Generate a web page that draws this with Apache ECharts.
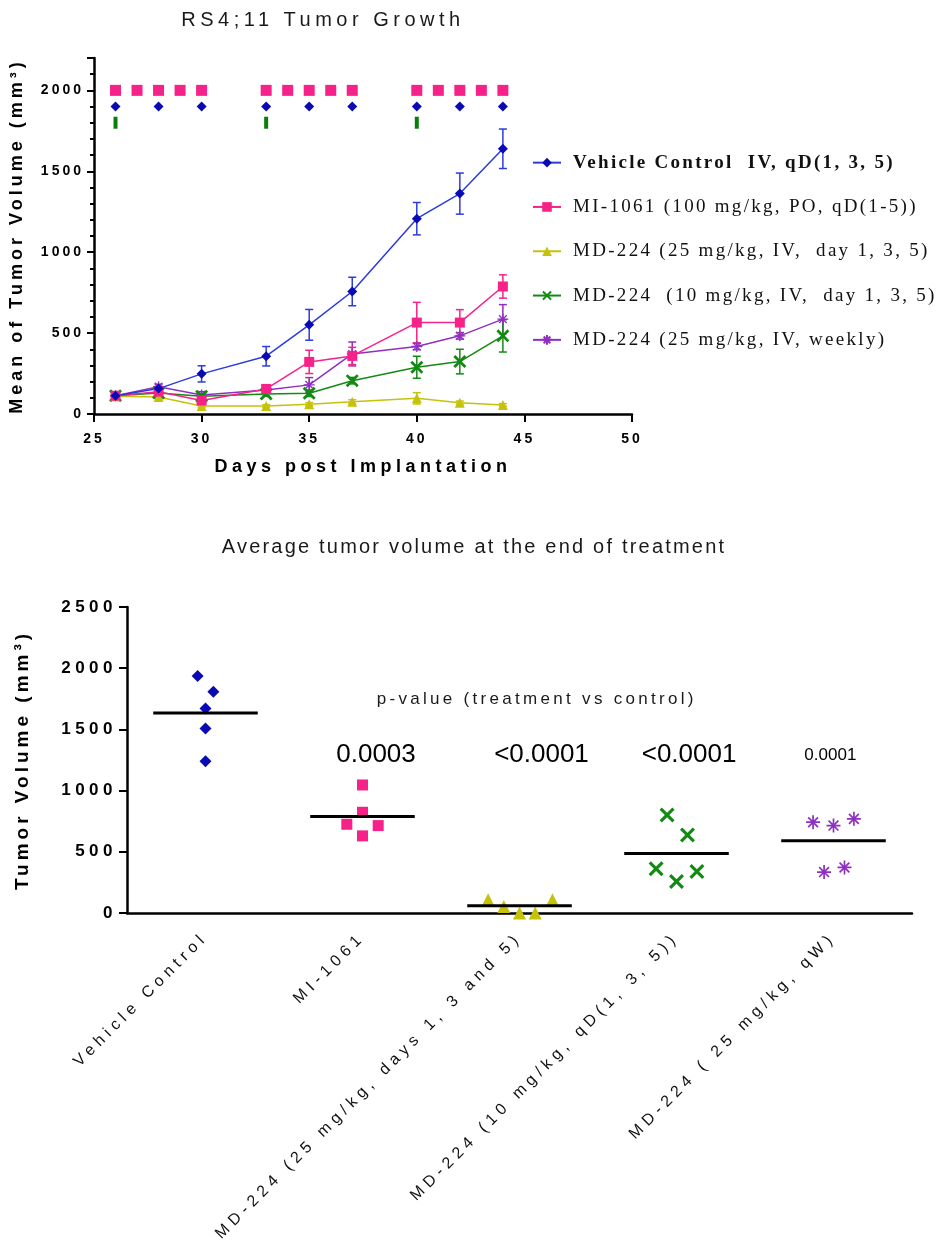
<!DOCTYPE html>
<html>
<head>
<meta charset="utf-8">
<title>RS4;11 Tumor Growth</title>
<script src="https://cdn.jsdelivr.net/npm/echarts@6/dist/echarts.min.js"></script>
<style>
  html, body { margin: 0; padding: 0; background: #fff; }
  #chart { width: 947px; height: 1245px; }
</style>
</head>
<body>
<div id="chart"></div>
<script>
// ---- top panel: growth curves ----
const days = [26, 28, 30, 33, 35, 37, 40, 42, 44];
const vehicleMean = [113, 157, 248, 357, 551, 757, 1207, 1362, 1639];
const vehicleSem = [10, 15, 50, 60, 95, 88, 100, 127, 122];
const mi1061Mean = [113, 138, 83, 155, 322, 359, 565, 565, 788];
const mi1061Sem = [10, 10, 12, 15, 72, 53, 125, 80, 72];
const md25Mean = [110, 105, 50, 50, 60, 76, 97, 70, 56];
const md25Sem = [8, 10, 8, 8, 10, 12, 35, 10, 8];
const md10Mean = [113, 130, 110, 124, 128, 206, 289, 324, 483];
const md10Sem = [10, 12, 12, 15, 20, 20, 68, 76, 100];
const weeklyMean = [113, 169, 118, 149, 180, 371, 417, 483, 586];
const weeklySem = [10, 15, 20, 15, 45, 74, 20, 20, 90];

const groupNames = [
  'Vehicle Control  IV, qD(1, 3, 5)',
  'MI-1061 (100 mg/kg, PO, qD(1-5))',
  'MD-224 (25 mg/kg, IV,  day 1, 3, 5)',
  'MD-224  (10 mg/kg, IV,  day 1, 3, 5)',
  'MD-224 (25 mg/kg, IV, weekly)'
];

// dosing schedule rows drawn above the curves
const doseSquareDays = [26, 27, 28, 29, 30, 33, 34, 35, 36, 37, 40, 41, 42, 43, 44];
const doseDiamondDays = [26, 28, 30, 33, 35, 37, 40, 42, 44];
const doseBarDays = [26, 33, 40];
const doseLevels = [2000, 1900, 1800];

// ---- bottom panel: end of treatment ----
const categories = [
  'Vehicle Control',
  'MI-1061',
  'MD-224 (25 mg/kg, days 1, 3 and 5)',
  'MD-224 (10 mg/kg, qD(1, 3, 5))',
  'MD-224 ( 25 mg/kg, qW)'
];
const vehiclePts = [1937, 1807, 1671, 1508, 1239];
const vehicleJitter = [-0.05, 0.05, 0, 0, 0];
const mi1061Pts = [1046, 823, 725, 714, 630];
const mi1061Jitter = [0, 0, -0.1, 0.1, 0];
const md25Pts = [108, 54, 0, 0, 108];
const md25Jitter = [-0.2, -0.1, 0, 0.1, 0.21];
const md10Pts = [801, 638, 361, 258, 339];
const md10Jitter = [-0.06, 0.07, -0.13, 0, 0.13];
const weeklyPts = [742, 714, 769, 334, 372];
const weeklyJitter = [-0.13, 0, 0.13, -0.06, 0.07];
const groupMeans = [1633, 788, 60, 486, 590];
const pHeader = 'p-value (treatment vs control)';
const pValues = ['0.0003', '<0.0001', '<0.0001', '0.0001'];

// colours
const BLUE = '#0a0ab4', BLUE_LINE = '#2a3be0';
const PINK = '#f7218a';
const YELLOW = '#c6c20c';
const GREEN = '#138a13';
const PURPLE = '#8f30c0';

const X_PATH = 'path://M3,0 L10,7 L17,0 L20,3 L13,10 L20,17 L17,20 L10,13 L3,20 L0,17 L7,10 L0,3 Z';
const STAR_PATH = 'path://M10,0 L10,20 M0,10 L20,10 M3,3 L17,17 M3,17 L17,3';

// the original export uses wide letter spacing; a family tag "lsNN" = NN/10 px
const canvasProto = CanvasRenderingContext2D.prototype;
['fillText', 'strokeText', 'measureText'].forEach(fn => {
  const orig = canvasProto[fn];
  canvasProto[fn] = function () {
    const m = /\bls(\d+)\b/.exec(this.font);
    this.letterSpacing = m ? m[1] / 10 + 'px' : '0px';
    return orig.apply(this, arguments);
  };
});

const pair = (xs, ys) => xs.map((x, i) => [x, ys[i]]);

function errorBars(color) {
  return function (params, api) {
    const x = api.value(0), y = api.value(1), e = api.value(2);
    const hi = api.coord([x, y + e]);
    const lo = api.coord([x, y - e]);
    const w = 4;
    const st = { stroke: color, lineWidth: 1.5 };
    return {
      type: 'group',
      children: [
        { type: 'line', shape: { x1: hi[0], y1: hi[1], x2: lo[0], y2: lo[1] }, style: st },
        { type: 'line', shape: { x1: hi[0] - w, y1: hi[1], x2: hi[0] + w, y2: hi[1] }, style: st },
        { type: 'line', shape: { x1: lo[0] - w, y1: lo[1], x2: lo[0] + w, y2: lo[1] }, style: st }
      ]
    };
  };
}

const curves = [
  { name: groupNames[4], mean: weeklyMean, sem: weeklySem, color: PURPLE, line: PURPLE, symbol: STAR_PATH, size: 11, stroke: true },
  { name: groupNames[3], mean: md10Mean, sem: md10Sem, color: GREEN, line: GREEN, symbol: X_PATH, size: 13 },
  { name: groupNames[2], mean: md25Mean, sem: md25Sem, color: YELLOW, line: YELLOW, symbol: 'triangle', size: 10 },
  { name: groupNames[1], mean: mi1061Mean, sem: mi1061Sem, color: PINK, line: PINK, symbol: 'rect', size: 10 },
  { name: groupNames[0], mean: vehicleMean, sem: vehicleSem, color: BLUE, line: BLUE_LINE, symbol: 'diamond', size: 10 }
];

const series = [];
curves.forEach(c => {
  series.push({
    type: 'custom',
    xAxisIndex: 0,
    yAxisIndex: 0,
    renderItem: errorBars(c.line),
    data: days.map((d, i) => [d, c.mean[i], c.sem[i]]),
    z: 1,
    silent: true
  });
  series.push({
    name: c.name,
    type: 'line',
    xAxisIndex: 0,
    yAxisIndex: 0,
    data: pair(days, c.mean),
    symbol: c.symbol,
    symbolSize: c.size,
    itemStyle: c.stroke
      ? { color: c.color, borderColor: c.color, borderWidth: 1.3, opacity: 1 }
      : { color: c.color, opacity: 1 },
    lineStyle: { color: c.line, width: 1.5 },
    z: 3
  });
});

series.push(
  {
    type: 'scatter', xAxisIndex: 0, yAxisIndex: 0, silent: true,
    data: doseSquareDays.map(d => [d, doseLevels[0]]),
    symbol: 'rect', symbolSize: 11, itemStyle: { color: PINK, opacity: 1 }
  },
  {
    type: 'scatter', xAxisIndex: 0, yAxisIndex: 0, silent: true,
    data: doseDiamondDays.map(d => [d, doseLevels[1]]),
    symbol: 'diamond', symbolSize: 10, itemStyle: { color: BLUE, opacity: 1 }
  },
  {
    type: 'scatter', xAxisIndex: 0, yAxisIndex: 0, silent: true,
    data: doseBarDays.map(d => [d, doseLevels[2]]),
    symbol: 'rect', symbolSize: [4, 12], itemStyle: { color: '#0a7d0a', opacity: 1 }
  }
);

// bottom scatter
const dots = [
  { pts: vehiclePts, jit: vehicleJitter, color: BLUE, symbol: 'diamond', size: 12 },
  { pts: mi1061Pts, jit: mi1061Jitter, color: PINK, symbol: 'rect', size: 11 },
  { pts: md25Pts, jit: md25Jitter, color: YELLOW, symbol: 'triangle', size: 13 },
  { pts: md10Pts, jit: md10Jitter, color: GREEN, symbol: X_PATH, size: 15 },
  { pts: weeklyPts, jit: weeklyJitter, color: PURPLE, symbol: STAR_PATH, size: 14, stroke: true }
];
dots.forEach((g, k) => {
  series.push({
    type: 'scatter',
    xAxisIndex: 2,
    yAxisIndex: 2,
    clip: false,
    silent: true,
    data: g.pts.map((v, i) => [k + 0.5 + g.jit[i], v]),
    symbol: g.symbol,
    symbolSize: g.size,
    itemStyle: g.stroke
      ? { color: g.color, borderColor: g.color, borderWidth: 1.7, opacity: 1 }
      : { color: g.color, opacity: 1 }
  });
});

series.push({
  type: 'custom',
  xAxisIndex: 2,
  yAxisIndex: 2,
  silent: true,
  z: 4,
  data: groupMeans.map((m, k) => [k + 0.5, m]),
  renderItem: function (params, api) {
    const a = api.coord([api.value(0) - 0.333, api.value(1)]);
    const b = api.coord([api.value(0) + 0.333, api.value(1)]);
    return {
      type: 'line',
      shape: { x1: a[0], y1: a[1], x2: b[0], y2: b[1] },
      style: { stroke: '#000', lineWidth: 3 }
    };
  }
});

// p-value annotations, anchored in data space of the lower panel
const pSpotsX = [1.586, 2.64, 3.58, 4.48];
const pSizes = [26, 26, 26, 17];
const annot = [{
  value: [2.61, 1747],
  label: { formatter: pHeader, fontSize: 17, fontFamily: 'ls33, Liberation Sans', color: '#1a1a1a' }
}];
pValues.forEach((t, i) => {
  annot.push({
    value: [pSpotsX[i], 1290],
    label: { formatter: t, fontSize: pSizes[i], fontFamily: 'Liberation Sans', color: '#000' }
  });
});
series.push({
  type: 'scatter',
  xAxisIndex: 2,
  yAxisIndex: 2,
  silent: true,
  symbolSize: 1,
  itemStyle: { color: 'transparent', opacity: 1 },
  label: { show: true, position: 'inside' },
  data: annot
});

const boldTick = { color: '#000', fontWeight: 'bold' };

const option = {
  animation: false,
  backgroundColor: '#fff',
  graphic: [
    {
      type: 'text',
      x: 323, y: 20,
      style: {
        text: 'RS4;11 Tumor Growth',
        font: '20px ls45, Liberation Sans',
        fill: '#1a1a1a',
        textAlign: 'center',
        textVerticalAlign: 'middle',
        verticalAlign: 'middle'
      }
    },
    {
      type: 'text',
      x: 474, y: 547,
      style: {
        text: 'Average tumor volume at the end of treatment',
        font: '20px ls22, Liberation Sans',
        fill: '#1a1a1a',
        textAlign: 'center',
        textVerticalAlign: 'middle',
        verticalAlign: 'middle'
      }
    }
  ],
  legend: {
    orient: 'vertical',
    left: 527,
    top: 147,
    itemWidth: 28,
    itemHeight: 12,
    itemGap: 23,
    selectedMode: false,
    data: groupNames.map((n, i) => (i === 0 ? { name: n, textStyle: { fontWeight: 'bold' } } : { name: n })),
    textStyle: {
      fontFamily: 'ls23, Liberation Serif',
      fontSize: 19,
      color: '#111',
      padding: [0, 0, 0, 7]
    }
  },
  grid: [
    { left: 94, right: 315, top: 58, bottom: 831, containLabel: false, outerBoundsMode: 'none' },
    { left: 127, right: 35, top: 607, bottom: 332, containLabel: false, outerBoundsMode: 'none' }
  ],
  xAxis: [
    {
      type: 'value',
      gridIndex: 0,
      min: 25,
      max: 50,
      interval: 5,
      name: 'Days post Implantation',
      nameLocation: 'middle',
      nameGap: 42,
      nameTextStyle: { color: '#000', fontWeight: 'bold', fontSize: 18, fontFamily: 'ls45, Liberation Sans' },
      axisLine: { lineStyle: { color: '#000', width: 2.5 } },
      axisTick: { length: 8, lineStyle: { color: '#000', width: 2 } },
      axisLabel: Object.assign({ fontSize: 14, fontFamily: 'ls30, Liberation Sans', margin: 17 }, boldTick),
      splitLine: { show: false }
    },
    {
      type: 'category',
      gridIndex: 1,
      data: categories,
      boundaryGap: true,
      axisLine: { lineStyle: { color: '#000', width: 2.5 } },
      axisTick: { alignWithLabel: true, length: 8, lineStyle: { color: '#000', width: 2 } },
      axisLabel: {
        rotate: 45,
        interval: 0,
        margin: 22,
        fontSize: 16,
        fontFamily: 'ls50, Liberation Sans',
        color: '#111'
      },
      splitLine: { show: false }
    },
    {
      type: 'value',
      gridIndex: 1,
      min: 0,
      max: 5,
      show: false
    }
  ],
  yAxis: [
    {
      type: 'value',
      gridIndex: 0,
      min: 0,
      max: 2200,
      interval: 500,
      name: 'Mean of Tumor Volume (mm³)',
      nameLocation: 'middle',
      nameGap: 66,
      nameTextStyle: { color: '#000', fontWeight: 'bold', fontSize: 18, fontFamily: 'ls40, Liberation Sans' },
      axisLine: { show: true, lineStyle: { color: '#000', width: 2.5 } },
      axisTick: { show: true, length: 7, lineStyle: { color: '#000', width: 2 } },
      axisLabel: Object.assign({
        fontSize: 14,
        fontFamily: 'ls30, Liberation Sans',
        margin: 10,
        formatter: v => (v % 500 === 0 ? String(v) : '')
      }, boldTick),
      splitLine: { show: false }
    },
    {
      // minor ticks every 100
      type: 'value',
      gridIndex: 0,
      position: 'left',
      offset: 0,
      min: 0,
      max: 2200,
      interval: 100,
      axisLine: { show: false },
      axisTick: { show: true, length: 4, lineStyle: { color: '#000', width: 2 } },
      axisLabel: { show: false },
      splitLine: { show: false }
    },
    {
      type: 'value',
      gridIndex: 1,
      min: 0,
      max: 2500,
      interval: 500,
      name: 'Tumor Volume (mm³)',
      nameLocation: 'middle',
      nameGap: 93,
      nameTextStyle: { color: '#000', fontWeight: 'bold', fontSize: 19, fontFamily: 'ls40, Liberation Sans' },
      axisLine: { show: true, lineStyle: { color: '#000', width: 2.5 } },
      axisTick: { show: true, length: 8, lineStyle: { color: '#000', width: 2 } },
      axisLabel: Object.assign({
        fontSize: 17,
        fontFamily: 'ls45, Liberation Sans',
        margin: 10,
        formatter: v => String(v)
      }, boldTick),
      splitLine: { show: false }
    }
  ],
  series: series
};

const chart = echarts.init(document.getElementById('chart'));
chart.setOption(option);
</script>
</body>
</html>
